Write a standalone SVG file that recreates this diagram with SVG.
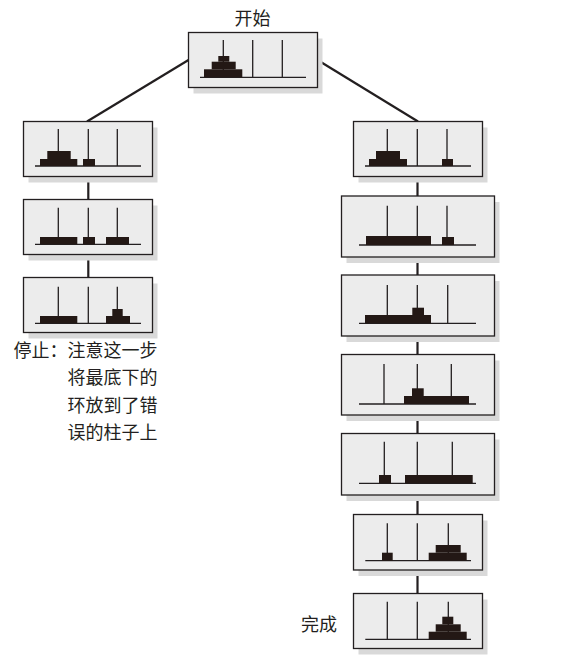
<svg xmlns="http://www.w3.org/2000/svg" width="561" height="662" viewBox="0 0 561 662">
<style>
.sh{fill:#d9d9d9}
.bx{fill:#ececec;stroke:#231f20;stroke-width:1.3}
.peg{stroke:#231f20;stroke-width:1.3;fill:none}
.dk{fill:#231815}
.con{stroke:#231f20;stroke-width:2.2;fill:none}
.t{font-family:"Noto Sans CJK SC",sans-serif;font-size:18px;fill:#231f20}
</style>
<rect width="561" height="662" fill="#ffffff"/>
<g id="connectors">
<line class="con" x1="188.5" y1="60" x2="87" y2="121.5"/>
<line class="con" x1="317.5" y1="60" x2="418" y2="121.5"/>
<line class="con" x1="88.3" y1="176.5" x2="88.3" y2="199.5"/>
<line class="con" x1="88.3" y1="254.5" x2="88.3" y2="277.5"/>
<line class="con" x1="417.5" y1="176.5" x2="417.5" y2="196"/>
<line class="con" x1="417.5" y1="257" x2="417.5" y2="275"/>
<line class="con" x1="417.5" y1="336" x2="417.5" y2="354.5"/>
<line class="con" x1="417.5" y1="415" x2="417.5" y2="433.5"/>
<line class="con" x1="417.5" y1="495" x2="417.5" y2="514.5"/>
<line class="con" x1="417.5" y1="570" x2="417.5" y2="593.5"/>
</g>
<g id="start">
<text class="t" x="252.5" y="25" text-anchor="middle">开始</text>
<rect class="sh" x="193.5" y="38.5" width="129" height="55"/>
<rect class="bx" x="188.5" y="32.5" width="129" height="55"/>
<path class="peg" d="M223.3 40V77.3M252.7 40V77.3M282.3 40V77.3M200 77.3H306"/>
<rect class="dk" x="218.3" y="56" width="11" height="5.7"/>
<rect class="dk" x="211.7" y="61.7" width="24" height="7.6"/>
<rect class="dk" x="204" y="69.3" width="38.3" height="8"/>
</g>
<g id="L1">
<rect class="sh" x="28.5" y="127.5" width="129" height="55"/>
<rect class="bx" x="23.5" y="121.5" width="129" height="55"/>
<path class="peg" d="M58.3 129V166M88.3 129V166M117.3 129V166M35 166H141"/>
<rect class="dk" x="47.3" y="151" width="23.4" height="8"/>
<rect class="dk" x="40" y="159" width="37.3" height="7"/>
<rect class="dk" x="83" y="159" width="12" height="7"/>
</g>
<g id="L2">
<rect class="sh" x="28.5" y="205.5" width="129" height="55"/>
<rect class="bx" x="23.5" y="199.5" width="129" height="55"/>
<path class="peg" d="M58.3 207.7V244.3M88.3 207.7V244.3M117.3 207.7V244.3M35 244.3H141"/>
<rect class="dk" x="40" y="237" width="37.3" height="7.3"/>
<rect class="dk" x="83" y="237" width="12" height="7.3"/>
<rect class="dk" x="106" y="237" width="23" height="7.3"/>
</g>
<g id="L3">
<rect class="sh" x="28.5" y="283.5" width="129" height="55"/>
<rect class="bx" x="23.5" y="277.5" width="129" height="55"/>
<path class="peg" d="M58.3 286.7V323.3M88.3 286.7V323.3M117.3 286.7V323.3M35 323.3H141"/>
<rect class="dk" x="40" y="316" width="37.3" height="7.3"/>
<rect class="dk" x="112.3" y="309" width="10.4" height="7"/>
<rect class="dk" x="106" y="316" width="24" height="7.3"/>
</g>
<g id="stop-note">
<text class="t" x="13.5" y="357">停止：注意这一步</text>
<text class="t" x="67.5" y="384.3">将最底下的</text>
<text class="t" x="67.5" y="411.6">环放到了错</text>
<text class="t" x="67.5" y="438.8">误的柱子上</text>
</g>
<g id="R1">
<rect class="sh" x="358.5" y="127.5" width="129" height="55"/>
<rect class="bx" x="353.5" y="121.5" width="129" height="55"/>
<path class="peg" d="M387.3 129V166M417.3 129V166M447 129V166M365 166H471"/>
<rect class="dk" x="376" y="151" width="24" height="8"/>
<rect class="dk" x="369" y="159" width="38" height="7"/>
<rect class="dk" x="442" y="159" width="11" height="7"/>
</g>
<g id="R2">
<rect class="sh" x="346.5" y="202" width="153" height="61"/>
<rect class="bx" x="341.5" y="196" width="153" height="61"/>
<path class="peg" d="M387.3 205.7V245M417.3 205.7V245M447 205.7V245M359 245H476"/>
<rect class="dk" x="366" y="236" width="65" height="9"/>
<rect class="dk" x="442" y="237" width="12" height="8"/>
</g>
<g id="R3">
<rect class="sh" x="346.5" y="281" width="153" height="61"/>
<rect class="bx" x="341.5" y="275" width="153" height="61"/>
<path class="peg" d="M387.3 285V323.3M417.3 285V323.3M447.7 285V323.3M359 323.3H476"/>
<rect class="dk" x="365" y="315" width="66" height="8.3"/>
<rect class="dk" x="412.3" y="307.7" width="11.7" height="7.3"/>
</g>
<g id="R4">
<rect class="sh" x="346.5" y="360.5" width="153" height="60.5"/>
<rect class="bx" x="341.5" y="354.5" width="153" height="60.5"/>
<path class="peg" d="M384 364V404M417.3 364V404M451.3 364V404M359 404H476"/>
<rect class="dk" x="404" y="396" width="65" height="8"/>
<rect class="dk" x="412" y="388.3" width="11.7" height="7.7"/>
</g>
<g id="R5">
<rect class="sh" x="346.5" y="439.5" width="153" height="61.5"/>
<rect class="bx" x="341.5" y="433.5" width="153" height="61.5"/>
<path class="peg" d="M384.3 441.7V483.3M417.3 441.7V483.3M452.3 441.7V483.3M359 483.3H476"/>
<rect class="dk" x="379" y="475" width="12" height="8.3"/>
<rect class="dk" x="405" y="475" width="67.7" height="8.3"/>
</g>
<g id="R6">
<rect class="sh" x="358.5" y="520.5" width="129" height="55.5"/>
<rect class="bx" x="353.5" y="514.5" width="129" height="55.5"/>
<path class="peg" d="M387.3 523.3V560.7M417.3 523.3V560.7M448.3 523.3V560.7M365.3 560.7H471"/>
<rect class="dk" x="382" y="552.7" width="10.7" height="8"/>
<rect class="dk" x="435.7" y="545" width="25" height="7.7"/>
<rect class="dk" x="428.7" y="552.7" width="38" height="8"/>
</g>
<g id="finish">
<text class="t" x="301" y="630.5">完成</text>
<rect class="sh" x="358.5" y="599.5" width="129" height="55"/>
<rect class="bx" x="353.5" y="593.5" width="129" height="55"/>
<path class="peg" d="M387.3 601.7V639.3M417.3 601.7V639.3M448.3 601.7V639.3M365.3 639.3H471"/>
<rect class="dk" x="442.3" y="616.7" width="11" height="7.6"/>
<rect class="dk" x="435.7" y="624.3" width="25" height="7.4"/>
<rect class="dk" x="428.7" y="631.7" width="38" height="7.6"/>
</g>
</svg>
